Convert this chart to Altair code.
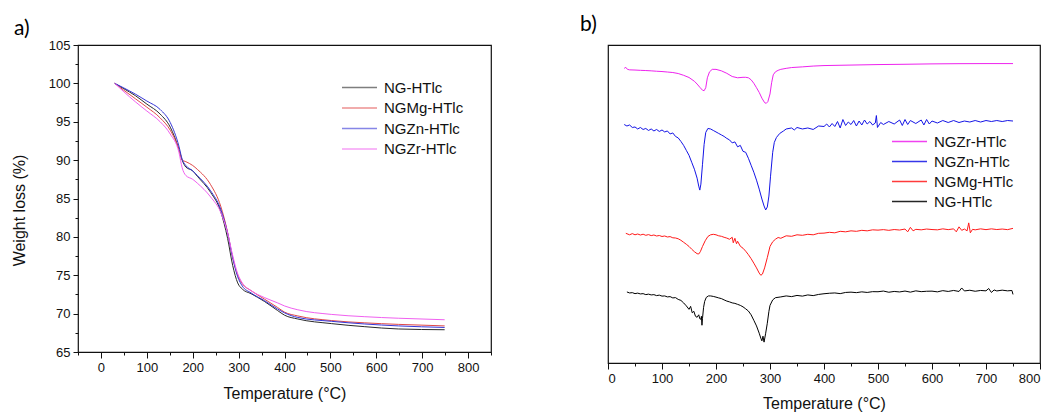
import altair as alt
import pandas as pd

# ---------------- Panel a) TGA ----------------
tga_names = ["NG-HTlc", "NGMg-HTlc", "NGZn-HTlc", "NGZr-HTlc"]
tga_T = [30, 50, 75, 100, 129, 151, 170, 177, 185, 200, 210, 239, 261, 276, 287, 298,
         308, 327, 356, 385, 400, 429, 502, 575, 648, 749]
tga_ng = [100, 99.3, 98.4, 97.3, 96.0, 94.3, 91.4, 90.0, 89.1, 88.6, 87.9, 85.8, 83.3, 79.8,
          76.3, 74.0, 73.2, 72.6, 71.6, 70.4, 69.8, 69.3, 68.7, 68.3, 68.0, 67.9]
tga_ngmg = [100, 99.1, 98.0, 96.9, 95.5, 93.9, 91.4, 90.0, 89.8, 89.3, 88.8, 86.8, 84.0, 80.6,
            77.3, 75.0, 73.9, 73.0, 71.9, 70.8, 70.2, 69.7, 69.1, 68.8, 68.6, 68.4]
tga_ngzn = [100, 99.4, 98.6, 97.7, 96.6, 94.9, 91.8, 90.1, 89.3, 88.6, 88.0, 86.0, 83.6, 80.5,
            77.3, 74.8, 73.6, 72.7, 71.7, 70.6, 70.1, 69.5, 69.0, 68.65, 68.4, 68.2]
tga_ngzr = [100, 98.9, 97.6, 96.4, 95.0, 93.4, 91.0, 89.0, 88.0, 87.5, 87.0, 85.2, 83.2, 80.5,
            77.6, 75.2, 74.0, 73.0, 72.1, 71.4, 71.0, 70.5, 69.9, 69.6, 69.4, 69.2]
tga_colors = ["#2a2a2a", "#e04848", "#3636d8", "#f060f0"]

# ---------------- Panel b) DTG (arbitrary units, stacked) ----------------
dtg_names = ["NGZr-HTlc", "NGZn-HTlc", "NGMg-HTlc", "NG-HTlc"]
dtg_colors = ["#ee22ee", "#1414e6", "#ff1a1a", "#000000"]

zr_T = [30, 33, 36, 40, 50, 60, 70, 80, 90, 100, 110, 120, 130, 140, 150, 160, 165, 170, 175,
        178, 181, 184, 188, 193, 200, 210, 220, 230, 240, 250, 255, 260, 265, 270, 275, 280,
        285, 290, 293, 296, 300, 303, 306, 310, 315, 320, 330, 340, 360, 380, 400, 450, 500,
        550, 600, 650, 700, 750]
zr_v = [296.5, 297.5, 295.5, 295.0, 294.8, 294.5, 294.3, 294.0, 293.6, 293.3, 292.8, 292.3,
        291.3, 289.5, 287.3, 283.5, 280.7, 277.5, 274.5, 274.0, 277.0, 287.0, 293.0, 295.5,
        295.5, 294.0, 291.5, 288.3, 287.0, 287.5, 287.5, 287.0, 285.0, 281.5, 277.0, 272.3,
        266.5, 262.0, 261.3, 263.0, 270.7, 282.0, 290.0, 293.0, 294.5, 295.5, 296.5, 297.3,
        298.0, 298.8, 299.3, 299.8, 300.3, 300.6, 301.0, 301.2, 301.3, 301.3]

zn_T = [30, 35, 40, 45, 50, 55, 60, 65, 70, 75, 80, 85, 90, 95, 100, 105, 110, 115, 120, 125,
        130, 135, 140, 145, 150, 155, 160, 165, 168, 170, 172, 175, 178, 181, 185, 190, 195,
        200, 205, 210, 215, 220, 225, 230, 235, 240, 245, 250, 255, 260, 265, 270, 275, 280,
        285, 289, 292, 295, 298, 301, 305, 308, 312, 318, 325, 330, 340, 345, 350, 360, 370,
        380, 390, 400, 405, 410, 415, 420, 425, 430, 435, 440, 445, 450, 455, 460, 465, 470,
        475, 480, 485, 490, 495, 497, 499, 505, 510, 520, 530, 540, 545, 550, 555, 560, 570,
        580, 585, 590, 595, 600, 610, 620, 630, 640, 650, 660, 670, 680, 690, 700, 710, 720,
        730, 740, 750]
zn_v = [240.0, 238.5, 239.5, 237.0, 237.5, 235.5, 237.0, 235.0, 236.0, 234.0, 235.5, 233.5,
        235.0, 233.0, 234.5, 232.5, 233.5, 230.5, 231.5, 228.0, 226.5, 223.0, 219.0, 214.0,
        209.0, 202.0, 195.0, 186.0, 178.0, 174.0, 180.0, 200.0, 220.0, 232.0, 236.0, 235.5,
        234.0, 232.5, 231.0, 229.5, 228.0, 226.0, 224.5, 221.5, 222.5, 217.5, 219.0, 213.0,
        212.0, 206.0, 199.0, 192.0, 184.0, 175.0, 165.0, 158.0, 154.0, 157.0, 168.0, 188.0,
        212.0, 222.0, 227.0, 231.0, 233.5, 235.5, 236.5, 234.5, 237.0, 235.5, 236.5, 235.0,
        238.5, 238.0, 240.5, 237.5, 241.0, 238.0, 243.0, 236.5, 245.0, 239.0, 242.5, 240.0,
        244.0, 238.5, 243.5, 239.5, 244.5, 240.5, 243.0, 239.5, 241.5, 249.0, 237.0, 242.0,
        240.0, 243.0, 240.5, 244.5, 239.0, 245.0, 240.0, 244.0, 241.0, 244.5, 239.5, 245.0,
        240.5, 243.5, 241.5, 244.0, 242.0, 244.0, 242.0, 243.5, 242.5, 244.0, 242.5, 244.0,
        243.0, 244.0, 243.0, 244.0, 243.5]

mg_T = [33, 40, 45, 50, 55, 60, 65, 70, 75, 80, 85, 90, 95, 100, 105, 110, 115, 120, 125, 130,
        135, 140, 145, 150, 155, 160, 165, 168, 171, 175, 180, 185, 190, 195, 200, 205, 210,
        215, 220, 225, 230, 232, 235, 238, 240, 245, 250, 255, 260, 265, 270, 275, 280, 283,
        286, 290, 295, 300, 305, 310, 315, 320, 330, 340, 350, 360, 370, 380, 390, 400, 410,
        420, 430, 440, 450, 460, 470, 480, 490, 500, 510, 520, 530, 540, 550, 555, 560, 565,
        570, 580, 590, 600, 610, 620, 630, 640, 645, 650, 655, 660, 665, 668, 671, 675, 680,
        690, 700, 710, 720, 730, 740, 750]
mg_v = [130.5, 129.0, 130.2, 129.0, 129.8, 128.8, 129.6, 128.5, 129.2, 128.2, 128.8, 127.8,
        128.3, 127.3, 127.8, 126.8, 127.2, 126.0, 125.8, 125.0, 123.5, 121.5, 119.5, 117.3,
        114.5, 112.0, 110.0, 109.7, 112.0, 117.3, 123.0, 127.3, 129.0, 129.5, 129.0, 128.0,
        127.5, 126.5, 125.7, 124.5, 126.5, 121.0, 125.5, 120.0, 122.5, 117.5, 115.5, 112.5,
        109.0, 105.0, 100.5, 95.7, 90.5, 88.3, 89.5, 95.7, 106.0, 117.3, 122.0, 124.5, 126.3,
        125.5, 128.0, 127.5, 129.0, 128.5, 129.5, 129.0, 130.5, 130.7, 131.5, 131.0, 132.5,
        132.0, 133.0, 132.5, 133.5, 133.0, 134.0, 133.7, 134.2, 133.5, 134.3, 133.8, 134.8,
        132.0, 136.5, 133.0, 134.5, 134.0, 134.8, 134.3, 134.0, 135.0, 134.2, 135.0, 132.0,
        137.0, 133.5, 134.8, 133.0, 141.0, 131.0, 134.5, 134.0, 135.0, 134.2, 135.0, 134.3,
        134.8, 134.2, 135.5]

ng_T = [35, 40, 45, 50, 55, 60, 65, 70, 75, 80, 85, 90, 95, 100, 105, 110, 115, 120, 125, 130,
        135, 140, 145, 150, 153, 156, 159, 162, 165, 168, 170, 172, 173, 174, 175, 177, 179,
        182, 186, 190, 195, 200, 205, 210, 215, 220, 225, 230, 235, 240, 245, 250, 255, 260,
        265, 270, 275, 280, 283, 285, 287, 289, 292, 295, 298, 300, 305, 310, 320, 330, 340,
        350, 360, 370, 380, 390, 400, 410, 420, 430, 440, 450, 460, 470, 480, 490, 500, 510,
        520, 530, 540, 550, 560, 570, 580, 590, 600, 610, 620, 630, 640, 650, 655, 660, 670,
        680, 690, 700, 705, 710, 715, 720, 730, 740, 748, 750]
ng_v = [71.5, 70.5, 70.8, 69.8, 70.3, 69.5, 69.8, 68.8, 69.3, 68.5, 68.8, 67.8, 68.3, 67.3,
        67.5, 66.5, 66.8, 65.5, 65.8, 64.0, 63.0, 60.5, 57.5, 54.0, 57.0, 50.5, 52.0, 47.0,
        46.0, 48.5, 44.5, 44.0, 47.0, 38.0, 45.0, 56.0, 62.0, 66.0, 67.5, 67.5, 67.0, 66.3,
        65.5, 64.8, 63.5, 62.3, 61.5, 60.5, 60.0, 59.0, 58.0, 56.5, 54.5, 52.3, 48.5, 43.0,
        37.3, 30.0, 25.0, 22.3, 27.0, 21.0, 30.0, 40.0, 52.0, 58.0, 63.5, 65.7, 66.5, 67.5,
        66.8, 68.0, 67.3, 68.5, 67.8, 69.0, 69.7, 70.2, 70.5, 69.8, 71.0, 71.3, 70.8, 71.6,
        71.0, 71.8, 71.7, 72.4, 71.2, 72.0, 71.5, 72.4, 71.3, 72.6, 71.8, 72.2, 72.3, 71.6,
        72.8, 72.0, 73.0, 72.0, 75.5, 72.5, 73.2, 72.2, 73.0, 72.6, 75.0, 71.0, 73.5, 72.5,
        73.3, 72.6, 73.0, 69.0]


def build(key, names, t_lists, v_lists):
    rows = []
    for n, ts, vs in zip(names, t_lists, v_lists):
        for i, (t, v) in enumerate(zip(ts, vs)):
            rows.append({key: n, "T": t, "v": v, "i": i})
    return pd.DataFrame(rows)


df_a = build("sample_a", tga_names, [tga_T] * 4, [tga_ng, tga_ngmg, tga_ngzn, tga_ngzr])
df_b = build("sample_b", dtg_names, [zr_T, zn_T, mg_T, ng_T], [zr_v, zn_v, mg_v, ng_v])

FONT = "Liberation Sans, Arial, sans-serif"

tick_x = {"condition": {"test": "datum.value % 100 === 0", "value": 6}, "value": 3}
tick_y = {"condition": {"test": "datum.value % 5 === 0", "value": 5}, "value": 3}

# long horizontal legend line: path spans 7 units (x sqrt(size)/2)
legend_common = dict(
    orient="none", title=None, symbolType="M-3.5,0H3.5", symbolSize=100,
    symbolStrokeWidth=1.5, symbolFillColor="transparent",
    labelFontSize=15, labelFont=FONT, labelColor="#111",
    labelOffset=17, padding=0,
)

chart_a = alt.Chart(df_a).mark_line(strokeWidth=1, interpolate="monotone").encode(
    x=alt.X("T:Q", title="Temperature (°C)",
            scale=alt.Scale(domain=[-50, 850], nice=False, zero=False),
            axis=alt.Axis(values=list(range(-50, 851, 50)), grid=False, domain=False,
                          labelExpr="(datum.value % 100 === 0 && datum.value >= 0 && datum.value <= 800) ? datum.label : ''",
                          tickSize=tick_x, labelPadding=3, titlePadding=11)),
    y=alt.Y("v:Q", title="Weight loss (%)",
            scale=alt.Scale(domain=[65, 105], nice=False, zero=False),
            axis=alt.Axis(values=[65 + 2.5 * k for k in range(17)], grid=False, domain=False,
                          labelExpr="datum.value % 5 === 0 ? datum.label : ''",
                          tickSize=tick_y, labelPadding=3, titlePadding=21, titleY=165)),
    color=alt.Color("sample_a:N", scale=alt.Scale(domain=tga_names, range=tga_colors),
                    legend=alt.Legend(legendX=274, legendY=35, symbolOpacity=0.6,
                                      rowPadding=4.5, **legend_common)),
    detail="sample_a:N",
    order="i:Q",
).properties(
    width=413, height=307,
    title=alt.TitleParams("a)", anchor="start", frame="group", dx=-64, dy=1, fontSize=21,
                          font="Lato", fontWeight="normal", offset=1),
)

chart_b = alt.Chart(df_b).mark_line(strokeWidth=1).encode(
    x=alt.X("T:Q", title="Temperature (°C)",
            scale=alt.Scale(domain=[0, 800], nice=False, zero=False),
            axis=alt.Axis(values=list(range(0, 801, 50)), grid=False, domain=False,
                          labelExpr="datum.value % 100 === 0 ? datum.label : ''",
                          tickSize=tick_x, labelPadding=3, titlePadding=10)),
    y=alt.Y("v:Q", scale=alt.Scale(domain=[0, 320], nice=False, zero=False), axis=None),
    color=alt.Color("sample_b:N", scale=alt.Scale(domain=dtg_names, range=dtg_colors),
                    legend=alt.Legend(legendX=294, legendY=89, symbolOpacity=0.85,
                                      rowPadding=4, **legend_common)),
    detail="sample_b:N",
    order="i:Q",
).properties(
    width=432, height=318,
    title=alt.TitleParams("b)", anchor="start", frame="group", dx=-28, fontSize=21,
                          font="Lato", fontWeight="normal", offset=10),
)

chart = alt.hconcat(chart_a, chart_b, spacing=117, bounds="flush").resolve_scale(
    color="independent", x="independent", y="independent"
).resolve_legend(color="independent").properties(
    padding={"left": 10, "top": 13, "right": 5, "bottom": 0},
    background="white",
).configure_view(stroke="#111", strokeWidth=1.2).configure_axis(
    labelFont=FONT, labelFontSize=13, labelColor="#111", titleFont=FONT, titleFontSize=16,
    titleFontWeight="normal", titleColor="#111", tickColor="#111", tickWidth=1,
)

chart.save("out.html", embed_options={"renderer": "svg", "actions": False})
